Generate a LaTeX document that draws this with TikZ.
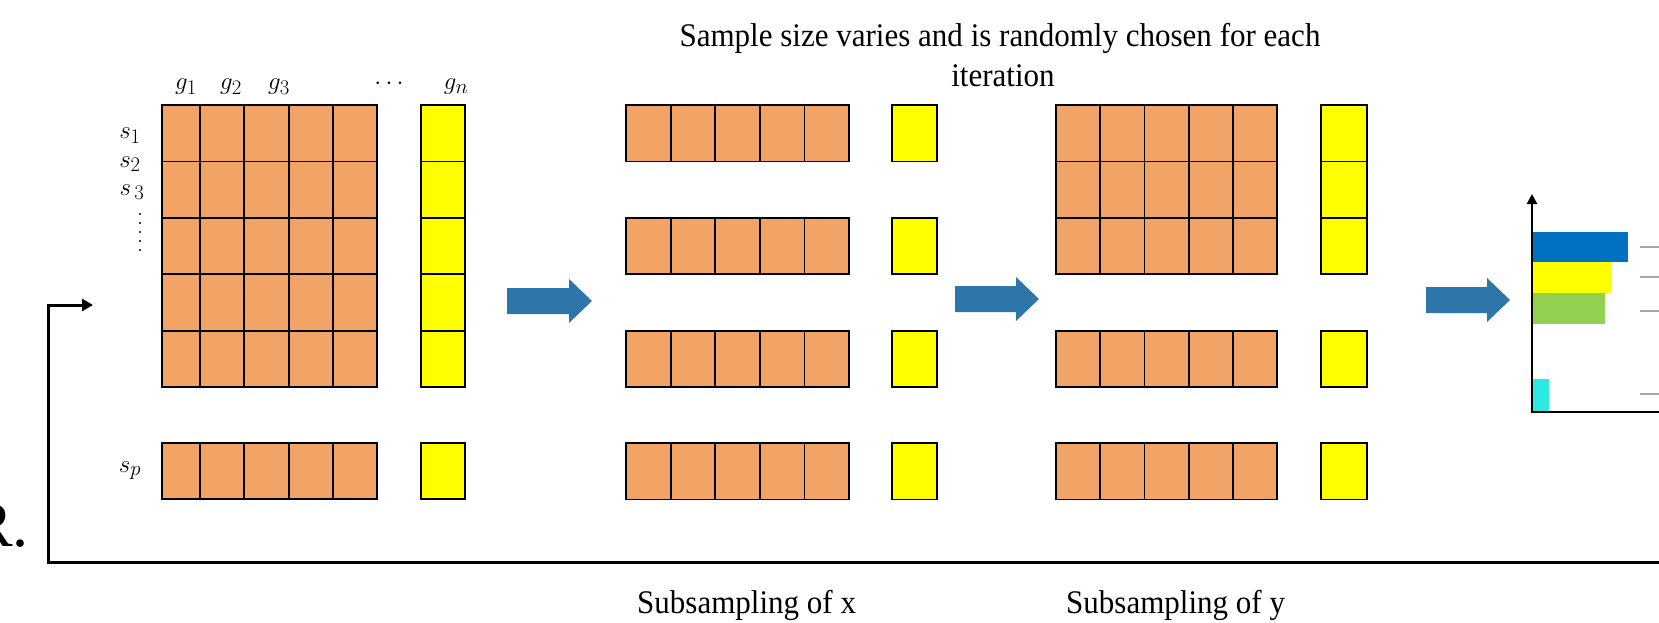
\documentclass[tikz,border=0pt]{standalone}
\usepackage{fontspec}
\setmainfont{Liberation Serif}
\usepackage{graphicx}
\usetikzlibrary{arrows.meta}
\definecolor{cellorange}{HTML}{F2A466}
\definecolor{cellyellow}{HTML}{FFFF00}
\definecolor{arrowblue}{HTML}{2E75A9}
\definecolor{barblue}{HTML}{0070C0}
\definecolor{bargreen}{HTML}{92D050}
\definecolor{barcyan}{HTML}{2EE8E2}
\tikzset{
  cell/.style={draw=black, line width=1.8pt, fill=cellorange},
  ycell/.style={draw=black, line width=1.8pt, fill=cellyellow},
  lbl/.style={font=\fontsize{28}{32}\selectfont, inner sep=0pt},
  txt/.style={font=\fontsize{33}{38}\selectfont, inner sep=0pt},
  fatarrow/.style={fill=arrowblue, draw=none},
  axisline/.style={line width=2.8pt, draw=black},
  tickline/.style={line width=1.5pt, draw=black!35},
  feedback/.style={line width=3pt, draw=black, line join=miter},
}
\newcommand{\blockarr}[3]{% start x, tip x, centre y
  \fill[fatarrow] (#1,#3-13) -- (#2-23,#3-13) -- (#2-23,#3-22) -- (#2,#3)
    -- (#2-23,#3+22) -- (#2-23,#3+13) -- (#1,#3+13) -- cycle;}
\begin{document}
\begin{tikzpicture}[x=1pt,y=-1pt]
\useasboundingbox (0,0) rectangle (1659,623);

% ---------- main matrix ----------
\foreach \y in {105,161.4,217.8,274.2,330.6}{
  \foreach \xa/\xb in {162/200,200/244,244/289,289/333,333/377}
    \draw[cell] (\xa,\y) rectangle (\xb,\y+56.4);
  \draw[ycell] (421,\y) rectangle (465,\y+56.4);
}
\foreach \xa/\xb in {162/200,200/244,244/289,289/333,333/377}
  \draw[cell] (\xa,443) rectangle (\xb,499);
\draw[ycell] (421,443) rectangle (465,499);

% labels
\node[lbl, anchor=base] (g1) at (186,90) {$g_1$};
\node[lbl, anchor=base] (g2) at (231,90) {$g_2$};
\node[lbl, anchor=base] (g3) at (279,90) {$g_3$};
\node[lbl, anchor=base] (gdots) at (389,90) {$\cdots$};
\node[lbl, anchor=base] (gn) at (456,90) {$g_n$};
\node[lbl, anchor=base] (s1) at (130,139) {$s_1$};
\node[lbl, anchor=base] (s2) at (130,167) {$s_2$};
\node[lbl, anchor=base] (s3) at (132,195) {$s_{\,3}$};
\node[lbl, anchor=base] (sp) at (130,472) {$s_p$};
\foreach \y in {214,223,...,250} \fill (140,\y) circle (1.2);

% ---------- subsampling of x ----------
\foreach \y in {105,217.8,330.6,443}{
  \foreach \i in {0,...,4}
    \draw[cell] ({626+\i*44.6},\y) rectangle ({626+(\i+1)*44.6},\y+56.4);
  \draw[ycell] (892,\y) rectangle (937,\y+56.4);
}

% ---------- subsampling of y ----------
\foreach \y in {105,161.4,217.8,330.6,443}{
  \foreach \i in {0,...,4}
    \draw[cell] ({1056+\i*44.2},\y) rectangle ({1056+(\i+1)*44.2},\y+56.4);
  \draw[ycell] (1321,\y) rectangle (1367,\y+56.4);
}

% ---------- block arrows ----------
\blockarr{507}{592}{301}
\blockarr{955}{1039}{299}
\blockarr{1426}{1510}{300}

% ---------- chart ----------
\fill[barblue]   (1533,232) rectangle (1628,262);
\fill[cellyellow](1533,262) rectangle (1612,293);
\fill[bargreen]  (1533,293) rectangle (1605,324);
\fill[barcyan]   (1533,379) rectangle (1549,412);
\foreach \y in {247,277,311,394} \draw[tickline] (1640,\y) -- (1659,\y);
\coordinate (origin) at (1532,412);
\coordinate (ytop) at (1532,194);
\coordinate (xend) at (1659,412);
\draw[axisline, -{Triangle[length=10pt,width=10pt]}] (origin) -- (ytop);
\draw[axisline] ([xshift=-1.4pt]origin) -- (xend);

% ---------- feedback loop ----------
\coordinate (fbA) at (1659,562);
\coordinate (fbB) at (93,305);
\draw[feedback, -{Triangle[length=11pt,width=12pt]}] (fbA) -- (48,562) -- (48,305) -- (fbB);

\node[anchor=base east, inner sep=0pt, font=\fontsize{64}{70}\selectfont] (rdot) at (29,546) {R.};

% ---------- texts ----------
\node[txt, anchor=base] (title1) at (1000,47) {\scalebox{0.94}[1]{Sample size varies and is randomly chosen for each}};
\node[txt, anchor=base] (title2) at (1003,87) {\scalebox{0.94}[1]{iteration}};
\node[txt, anchor=base west] (subx) at (637,613) {\scalebox{0.94}[1]{Subsampling of x}};
\node[txt, anchor=base west] (suby) at (1066,613) {\scalebox{0.94}[1]{Subsampling of y}};
\end{tikzpicture}
\end{document}
